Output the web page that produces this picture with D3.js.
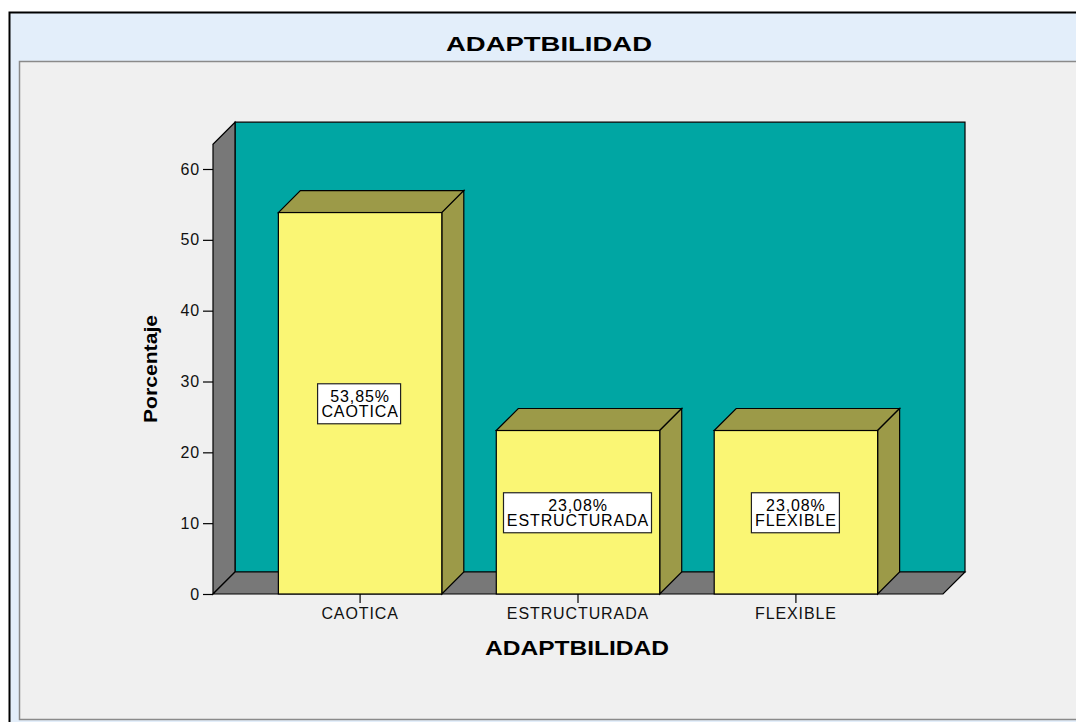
<!DOCTYPE html>
<html lang="en">
<head>
    <meta charset="UTF-8">
    <script src="https://d3js.org/d3.v7.min.js"></script>
    <title>ADAPTBILIDAD</title>
    <style>
        body { margin: 0; background: #fff; }
        text { font-family: "Liberation Sans", Arial, sans-serif; }
    </style>
</head>
<body>
    <svg id="chart" width="1076" height="722"></svg>
    <script>
        // data
        const categories = ["CAOTICA", "ESTRUCTURADA", "FLEXIBLE"];
        const percents = [53.85, 23.08, 23.08];
        const barLabels = ["53,85%", "23,08%", "23,08%"];
        const yTicks = [0, 10, 20, 30, 40, 50, 60];

        const svg = d3.select("#chart");
        const depth = 22;

        // frame
        svg.append("rect").attr("x", 9.5).attr("y", 12.5).attr("width", 1080).attr("height", 720)
            .attr("fill", "#e3eefa").attr("stroke", "#000").attr("stroke-width", 2);
        svg.append("rect").attr("x", 19.5).attr("y", 61.5).attr("width", 1070).attr("height", 658)
            .attr("fill", "#f0f0f0").attr("stroke", "#8a8a8a").attr("stroke-width", 1.5);

        svg.append("text")
            .attr("x", 549).attr("y", 51)
            .attr("text-anchor", "middle")
            .attr("font-size", 21).attr("font-weight", "bold")
            .attr("textLength", 206).attr("lengthAdjust", "spacingAndGlyphs")
            .text("ADAPTBILIDAD");

        const x = d3.scaleBand()
            .domain(categories)
            .range([213, 943])
            .paddingInner(0.25)
            .paddingOuter(0.3);

        const y = d3.scaleLinear()
            .domain([0, 60])
            .range([594, 169]);

        const y0 = y(0);
        const yTop = y(63.5);
        const x0 = x.range()[0], x1 = x.range()[1];
        const poly = pts => pts.map(p => p.join(",")).join(" ");

        // back wall
        svg.append("polygon")
            .attr("points", poly([[x0 + depth, yTop - depth], [x1 + depth, yTop - depth], [x1 + depth, y0 - depth], [x0 + depth, y0 - depth]]))
            .attr("fill", "#00a6a3").attr("stroke", "#000").attr("stroke-width", 1.2);
        // side wall
        svg.append("polygon")
            .attr("points", poly([[x0, yTop], [x0 + depth, yTop - depth], [x0 + depth, y0 - depth], [x0, y0]]))
            .attr("fill", "#787878").attr("stroke", "#000").attr("stroke-width", 1.2);
        // floor
        svg.append("polygon")
            .attr("points", poly([[x0, y0], [x0 + depth, y0 - depth], [x1 + depth, y0 - depth], [x1, y0]]))
            .attr("fill", "#787878").attr("stroke", "#000").attr("stroke-width", 1.2);

        // bars
        const bars = svg.append("g").selectAll("g")
            .data(categories)
            .enter().append("g");

        bars.append("polygon")
            .attr("points", (d, i) => {
                const a = x(d), b = x(d) + x.bandwidth(), t = y(percents[i]);
                return poly([[a, t], [a + depth, t - depth], [b + depth, t - depth], [b, t]]);
            })
            .attr("fill", "#9c9a48").attr("stroke", "#000").attr("stroke-width", 1.2);

        bars.append("polygon")
            .attr("points", (d, i) => {
                const b = x(d) + x.bandwidth(), t = y(percents[i]);
                return poly([[b, t], [b + depth, t - depth], [b + depth, y0 - depth], [b, y0]]);
            })
            .attr("fill", "#9c9a48").attr("stroke", "#000").attr("stroke-width", 1.2);

        bars.append("rect")
            .attr("x", d => x(d))
            .attr("y", (d, i) => y(percents[i]))
            .attr("width", x.bandwidth())
            .attr("height", (d, i) => y0 - y(percents[i]))
            .attr("fill", "#faf674").attr("stroke", "#000").attr("stroke-width", 1.2);

        // value labels in boxes
        const labels = bars.append("g")
            .attr("transform", (d, i) => "translate(" + (x(d) + x.bandwidth() / 2) + "," + y(percents[i] / 2) + ")");

        labels.append("rect").attr("class", "lbox")
            .attr("fill", "#fff").attr("stroke", "#222").attr("stroke-width", 1.2);

        const lt = labels.append("text")
            .attr("text-anchor", "middle")
            .attr("font-size", 16)
            .attr("letter-spacing", 0.9);
        lt.append("tspan").attr("x", 0).attr("y", -1.5).text((d, i) => barLabels[i]);
        lt.append("tspan").attr("x", 0).attr("y", 13.5).text(d => d);

        labels.each(function() {
            const g = d3.select(this);
            const bb = g.select("text").node().getBBox();
            g.select("rect.lbox")
                .attr("x", Math.round(bb.x - 4) + 0.5)
                .attr("y", -19.5)
                .attr("width", Math.round(bb.width + 6))
                .attr("height", 40);
        });

        // axes
        const yAxis = svg.append("g")
            .attr("transform", "translate(" + x0 + ",0)")
            .call(d3.axisLeft(y).tickValues(yTicks).tickSize(10).tickPadding(3));
        yAxis.select(".domain").remove();
        yAxis.selectAll("line").attr("stroke", "#000").attr("stroke-width", 1.2);
        yAxis.selectAll("text").attr("font-size", 16).attr("letter-spacing", 0.8)
            .attr("fill", "#111").attr("font-family", "'Liberation Sans', Arial, sans-serif");

        const xAxis = svg.append("g")
            .attr("transform", "translate(0," + y0 + ")")
            .call(d3.axisBottom(x).tickSize(9).tickPadding(5));
        xAxis.select(".domain").remove();
        xAxis.selectAll("line").attr("stroke", "#000").attr("stroke-width", 1.2);
        xAxis.selectAll("text").attr("font-size", 16).attr("letter-spacing", 0.9)
            .attr("fill", "#111").attr("font-family", "'Liberation Sans', Arial, sans-serif");

        // axis titles
        svg.append("text")
            .attr("x", 577).attr("y", 655)
            .attr("text-anchor", "middle")
            .attr("font-size", 20).attr("font-weight", "bold")
            .attr("textLength", 184).attr("lengthAdjust", "spacingAndGlyphs")
            .text("ADAPTBILIDAD");

        svg.append("text")
            .attr("transform", "translate(157,369) rotate(-90)")
            .attr("text-anchor", "middle")
            .attr("font-size", 19).attr("font-weight", "bold")
            .attr("textLength", 108).attr("lengthAdjust", "spacingAndGlyphs")
            .text("Porcentaje");
    </script>
</body>
</html>
